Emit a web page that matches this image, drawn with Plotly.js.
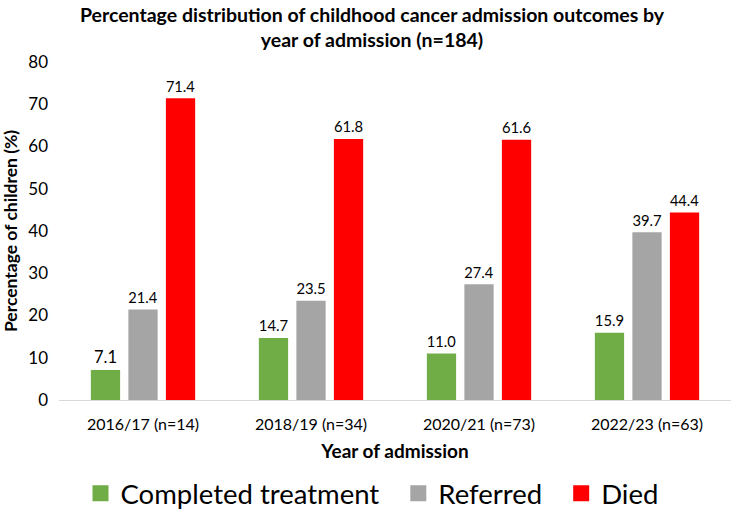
<!DOCTYPE html>
<html>
<head>
<meta charset="utf-8">
<script src="https://cdn.plot.ly/plotly-3.0.1.min.js"></script>
<style>html,body{margin:0;padding:0;background:#fff;}#chart{width:744px;height:514px;}</style>
</head>
<body>
<div id="chart"></div>
<script>
const categories = ["2016/17 (n=14)", "2018/19 (n=34)", "2020/21 (n=73)", "2022/23 (n=63)"];
const completed = [7.1, 14.7, 11.0, 15.9];
const referred = [21.4, 23.5, 27.4, 39.7];
const died = [71.4, 61.8, 61.6, 44.4];
const seriesNames = ["Completed treatment", "Referred", "Died"];
const colors = ["#70AD47", "#A5A5A5", "#FF0000"];
const FONT = "Lato, 'Open Sans', sans-serif";

const values = [completed, referred, died];
const traces = values.map((v, i) => ({
  type: "bar",
  name: seriesNames[i],
  legendgroup: seriesNames[i],
  showlegend: false,
  x: categories,
  y: v,
  marker: {color: colors[i]},
  texttemplate: "%{y:.1f}",
  textposition: "outside",
  cliponaxis: false,
  textfont: {family: FONT, size: 16.5, color: "#000"},
  hoverinfo: "x+y"
}));
// legend entries with larger square swatches
seriesNames.forEach((n, i) => traces.push({
  type: "scatter", mode: "markers",
  name: i < seriesNames.length - 1 ? n + "\u00A0\u00A0" : n,
  legendgroup: n,
  x: [null], y: [null],
  marker: {symbol: "square", size: 20, color: colors[i]},
  showlegend: true, hoverinfo: "skip"
}));

const layout = {
  width: 744, height: 514,
  margin: {l: 59, r: 13, t: 62, b: 114, autoexpand: false},
  paper_bgcolor: "#fff", plot_bgcolor: "#fff",
  font: {family: FONT, color: "#000"},
  title: {
    text: "<b>Percentage distribution of childhood cancer admission outcomes by<br>year of admission (n=184)</b>",
    x: 0.5, xanchor: "center", yref: "container", y: 0.958, yanchor: "middle",
    font: {family: FONT, size: 19.5, color: "#000"}
  },
  barmode: "group",
  bargap: 0.33,
  bargroupgap: 0.22,
  xaxis: {
    showline: true, linecolor: "#D9D9D9", linewidth: 1,
    ticks: "", showgrid: false, ticklabelstandoff: 10,
    tickfont: {family: FONT, size: 16, color: "#000"},
    title: {text: "<b>Year of admission</b>", font: {family: FONT, size: 19, color: "#000"}, standoff: 12}
  },
  yaxis: {
    range: [0, 80], dtick: 10,
    showline: false, showgrid: false, zeroline: false,
    ticks: "", ticklabelstandoff: 10,
    tickfont: {family: FONT, size: 17, color: "#000"},
    title: {text: "<b>Percentage of children (%)</b>", font: {family: FONT, size: 17.5, color: "#000"}, standoff: 6}
  },
  legend: {
    orientation: "h", x: 0.5, xref: "container", xanchor: "center", yref: "container", y: 0.04, yanchor: "middle",
    font: {family: FONT, size: 27.5, color: "#000"},
    itemsizing: "trace", itemwidth: 30, tracegroupgap: 0
  },
  showlegend: true
};

Plotly.newPlot("chart", traces, layout, {displayModeBar: false, staticPlot: true});
</script>
</body>
</html>
